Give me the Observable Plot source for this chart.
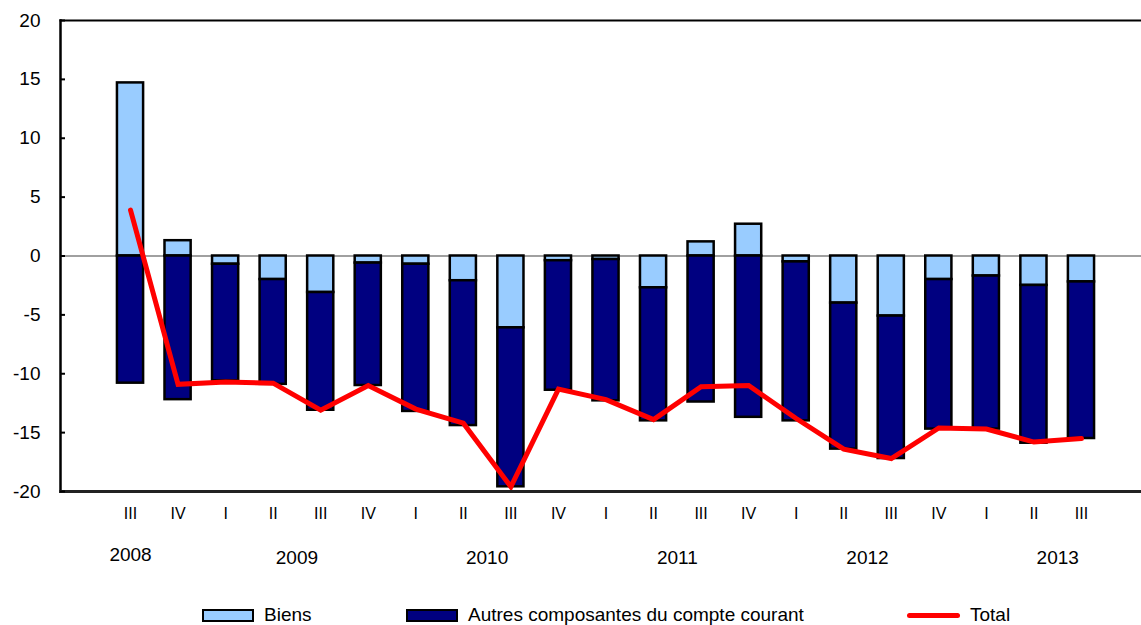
<!DOCTYPE html>
<html>
<head>
<meta charset="utf-8">
<script src="https://cdn.jsdelivr.net/npm/d3@7"></script>
<script src="https://cdn.jsdelivr.net/npm/@observablehq/plot@0.6"></script>
<style>
  html, body { margin: 0; padding: 0; background: #fff; overflow: hidden; }
  body { font-family: Arial, "Liberation Sans", sans-serif; color: #000; }
  #chart svg { display: block; }
  #legend { position: relative; width: 1141px; height: 35px; font-size: 19px; }
  .item { position: absolute; top: 15px; height: 20px; display: flex; align-items: center; }
  .sw { width: 48px; height: 9px; border: 2px solid #000; margin-right: 10px; }
  .ln { width: 53px; height: 5px; border-radius: 3px; background: #ff0000; margin-right: 10px; }
</style>
</head>
<body>
<div id="chart"></div>
<div id="legend"></div>
<script>
// ---- data ----
const quarters = ["III","IV","I","II","III","IV","I","II","III","IV","I","II","III","IV","I","II","III","IV","I","II","III"];
const quarterYears = ["2008","2008","2009","2009","2009","2009","2010","2010","2010","2010","2011","2011","2011","2011","2012","2012","2012","2012","2013","2013","2013"];
const yearLabels = ["2008","2009","2010","2011","2012","2013"];
const biens  = [14.7, 1.3, -0.7, -2.0, -3.1, -0.6, -0.7, -2.1, -6.1, -0.4, -0.3, -2.7, 1.2, 2.7, -0.5, -4.0, -5.1, -2.0, -1.7, -2.5, -2.2];
const autres = [-10.8, -12.2, -9.9, -8.9, -10.0, -10.4, -12.5, -12.3, -13.5, -11.0, -12.0, -11.3, -12.4, -13.7, -13.5, -12.4, -12.1, -12.7, -13.0, -13.4, -13.3];
const total  = [3.9, -10.9, -10.7, -10.8, -13.1, -11.0, -13.0, -14.2, -19.6, -11.3, -12.2, -13.9, -11.1, -11.0, -13.8, -16.4, -17.2, -14.6, -14.7, -15.8, -15.5];
const yTicks = [-20, -15, -10, -5, 0, 5, 10, 15, 20];
const seriesNames = ["Biens", "Autres composantes du compte courant", "Total"];
const seriesColors = ["#99ccff", "#000080", "#ff0000"];

// ---- derived tables ----
const keys = quarters.map((q, i) => quarterYears[i] + "-" + q);
const rows = keys.flatMap((k, i) => [
  {key: k, series: seriesNames[0], value: biens[i]},
  {key: k, series: seriesNames[1], value: autres[i]}
]);
const totalRows = keys.map((k, i) => ({key: k, value: total[i]}));

const xRange = [106.25, 1104.75];
const step = (xRange[1] - xRange[0]) / keys.length;

const chart = Plot.plot({
  width: 1141,
  height: 590,
  marginLeft: 60,
  marginRight: 0,
  marginTop: 20,
  marginBottom: 99,
  style: {fontFamily: "Arial, 'Liberation Sans', sans-serif", color: "#000", background: "#fff", overflow: "visible"},
  x: {type: "band", domain: keys, range: xRange, round: false, paddingInner: 0.45, paddingOuter: 0.225, axis: null},
  y: {domain: [-20, 20], axis: null, label: null},
  color: {domain: seriesNames.slice(0, 2), range: seriesColors.slice(0, 2)},
  marks: [
    Plot.ruleY([0], {stroke: "#808080", strokeWidth: 1.5}),
    Plot.barY(rows, {x: "key", y: "value", fill: "series", stroke: "#000", strokeWidth: 2.5}),
    Plot.line(totalRows, {x: "key", y: "value", stroke: seriesColors[2], strokeWidth: 5, strokeLinejoin: "miter", strokeMiterlimit: 3}),
    Plot.frame({anchor: "left", stroke: "#000", strokeWidth: 2.5}),
    Plot.frame({anchor: "top", stroke: "#000", strokeWidth: 2}),
    Plot.frame({anchor: "bottom", stroke: "#222", strokeWidth: 3}),
    Plot.axisY(yTicks, {anchor: "left", tickSize: -5, strokeWidth: 2, text: null, label: null}),
    Plot.axisY(yTicks, {anchor: "left", tickSize: 0, tickPadding: 20, fontSize: 19, fill: "#000", label: null, tickFormat: d => String(d)}),
    Plot.text(keys, {x: d => d, text: (d, i) => quarters[i], frameAnchor: "bottom", dy: 27, fontSize: 16, fill: "#000"}),
    Plot.text(yearLabels.slice(0, 1), {x: d => d + "-III", frameAnchor: "bottom", dy: 69, fontSize: 19, fill: "#000"}),
    Plot.text(yearLabels.slice(1), {x: d => d + "-III", dx: -step / 2, frameAnchor: "bottom", dy: 72, fontSize: 19, fill: "#000"})
  ]
});
document.getElementById("chart").appendChild(chart);

// ---- legend ----
const legend = document.getElementById("legend");
const lefts = [202, 406, 907];
seriesNames.forEach((name, i) => {
  const item = document.createElement("div");
  item.className = "item";
  item.style.left = lefts[i] + "px";
  const mark = document.createElement("span");
  if (i < 2) { mark.className = "sw"; mark.style.background = seriesColors[i]; }
  else { mark.className = "ln"; }
  const label = document.createElement("span");
  label.textContent = name;
  item.appendChild(mark);
  item.appendChild(label);
  legend.appendChild(item);
});
</script>
</body>
</html>
